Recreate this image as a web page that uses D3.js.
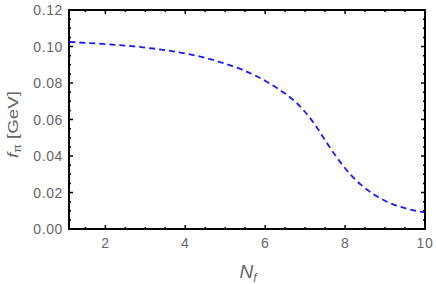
<!DOCTYPE html>
<html>
<head>
<meta charset="utf-8">
<script src="https://cdn.jsdelivr.net/npm/d3@7"></script>
<style>
  body { margin: 0; background: #fff; }
  svg { display: block; font-family: "Liberation Sans", Arial, sans-serif; }
</style>
</head>
<body>
<svg id="grafico" width="436" height="284"></svg>
<script>
// N_f values and f_pi (GeV)
const nf = [1.1, 1.5, 2, 2.5, 3, 3.5, 4, 4.5, 5, 5.5, 5.75, 6, 6.25, 6.5, 6.75, 7, 7.25, 7.5, 7.75, 8,
            8.25, 8.5, 8.75, 9, 9.25, 9.5, 9.75, 10];
const fpi = [0.1025, 0.1020, 0.1013, 0.1005, 0.0994, 0.0980, 0.0962, 0.0938, 0.0906, 0.0866,
             0.0841, 0.0812, 0.0779, 0.0742, 0.0698, 0.0641, 0.0570, 0.0487, 0.0405, 0.0333,
             0.0272, 0.0224, 0.0185, 0.0155, 0.0131, 0.0114, 0.0101, 0.0091];

const xTicks = [2, 4, 6, 8, 10];
const yTicks = [0, 0.02, 0.04, 0.06, 0.08, 0.10, 0.12];

const margin = { top: 10, right: 11, bottom: 55, left: 69 };
const width = 436 - margin.left - margin.right;
const height = 284 - margin.top - margin.bottom;

const xScale = d3.scaleLinear().domain([1.09, 10]).range([0, width]);
const yScale = d3.scaleLinear().domain([0, 0.12]).range([height, 0]);

const svg = d3.select("#grafico");
const g = svg.append("g").attr("transform", `translate(${margin.left}, ${margin.top})`);

const xMinor = d3.range(1.5, 10.01, 0.5).filter(v => xTicks.indexOf(v) < 0);
const yMinor = d3.range(0, 0.1201, 0.005).filter(v => !yTicks.some(t => Math.abs(t - v) < 1e-9));

// ticks pointing inward on all four sides
function ticks(sel, vals, len) {
  vals.forEach(v => {
    const x = xScale(v);
    sel.append("line").attr("x1", x).attr("x2", x).attr("y1", height).attr("y2", height - len);
    sel.append("line").attr("x1", x).attr("x2", x).attr("y1", 0).attr("y2", len);
  });
}
function yticks(sel, vals, len) {
  vals.forEach(v => {
    const y = yScale(v);
    sel.append("line").attr("y1", y).attr("y2", y).attr("x1", 0).attr("x2", len);
    sel.append("line").attr("y1", y).attr("y2", y).attr("x1", width).attr("x2", width - len);
  });
}

const tk = g.append("g").attr("stroke", "#000").attr("stroke-width", 1.5);
ticks(tk, xTicks, 4);
ticks(tk, xMinor, 2);
yticks(tk, yTicks, 4);
yticks(tk, yMinor, 2);

// curve
const line = d3.line()
  .x((d, i) => xScale(nf[i]))
  .y(d => yScale(d))
  .curve(d3.curveCatmullRom);

g.append("path")
  .datum(fpi)
  .attr("d", line)
  .attr("fill", "none")
  .attr("stroke", "#1a1aff")
  .attr("stroke-width", 1.8)
  .attr("stroke-dasharray", "6,4");

// frame
g.append("rect")
  .attr("width", width).attr("height", height)
  .attr("fill", "none").attr("stroke", "#000").attr("stroke-width", 2);

// tick labels
g.selectAll(".xl").data(xTicks).enter().append("text")
  .attr("x", d => xScale(d)).attr("y", height + 19)
  .attr("text-anchor", "middle").attr("fill", "#666").attr("font-size", 14)
  .attr("letter-spacing", 0.6)
  .text(d => d);

g.selectAll(".yl").data(yTicks).enter().append("text")
  .attr("x", -6).attr("y", d => yScale(d) + 5)
  .attr("text-anchor", "end").attr("fill", "#666").attr("font-size", 14)
  .attr("letter-spacing", 0.6)
  .text(d => d.toFixed(2));

// axis labels
const xl = g.append("text")
  .attr("x", width / 2 + 1).attr("y", height + 49)
  .attr("text-anchor", "middle").attr("fill", "#666").attr("font-size", 19);
xl.append("tspan").attr("font-style", "italic").text("N");
xl.append("tspan").attr("font-style", "italic").attr("font-size", 12).attr("dy", 4).text("f");

const yl = g.append("text")
  .attr("transform", `translate(-51, ${height / 2 + 5}) rotate(-90) scale(1.25, 1)`)
  .attr("text-anchor", "middle").attr("fill", "#666").attr("font-size", 15);
yl.append("tspan").attr("font-style", "italic").text("f");
yl.append("tspan").attr("font-size", 10).attr("dy", 3).text("π");
yl.append("tspan").attr("dy", -3).text(" [GeV]");
</script>
</body>
</html>
